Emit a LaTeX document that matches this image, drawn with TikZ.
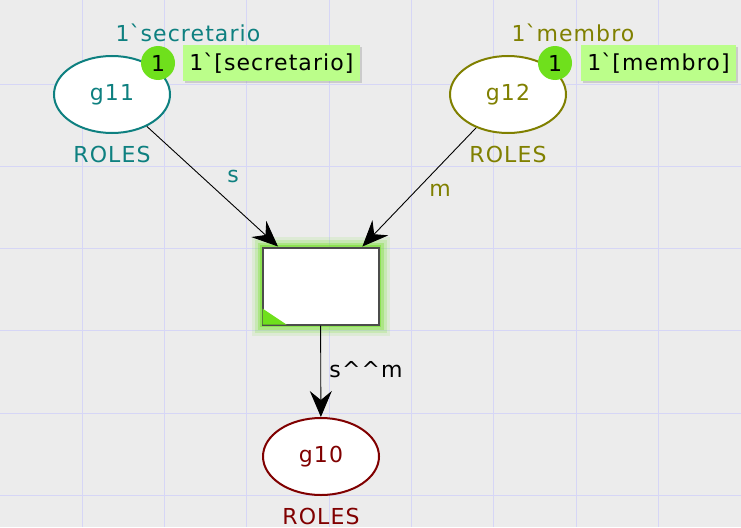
\documentclass[tikz,border=0pt]{standalone}
\usepackage{fontspec}
\setmainfont{DejaVu Sans}[LetterSpace=5]
\usepackage{tikz}
\usetikzlibrary{arrows.meta,calc,positioning,shapes,shadows}
\definecolor{canvas}{HTML}{ECECEC}
\definecolor{gridblue}{HTML}{D6D6F6}
\definecolor{cpnteal}{HTML}{0E8080}
\definecolor{cpnolive}{HTML}{808000}
\definecolor{cpnred}{HTML}{800000}
\definecolor{tokengreen}{HTML}{6FE01C}
\definecolor{markfill}{HTML}{BBFE8A}
\definecolor{glow}{HTML}{78E030}

\begin{document}
\begin{tikzpicture}[x=1pt,y=-1pt,->,>={Stealth[length=26pt,width=22pt,inset=9pt]},
font=\fontsize{22}{26}\selectfont]
\tikzstyle{place}=[ellipse,draw,line width=2pt,fill=white,minimum width=116pt,minimum height=77pt,inner sep=0pt]
\tikzstyle{transition}=[rectangle,draw=black!70,line width=2pt,fill=white,minimum width=116pt,minimum height=77pt,
preaction={draw=glow,line width=22pt,draw opacity=0.12},
preaction={draw=glow,line width=16pt,draw opacity=0.2},
preaction={draw=glow,line width=10pt,draw opacity=0.35},
preaction={draw=glow,line width=5pt,draw opacity=0.6}]
\tikzstyle{token}=[circle,fill=tokengreen,minimum size=34pt,inner sep=0pt]
\tikzstyle{marking}=[rectangle,fill=markfill,minimum height=35pt,inner xsep=6pt,
drop shadow={shadow xshift=2pt,shadow yshift=-2pt,opacity=0.3}]
\tikzstyle{arc}=[draw=black,line width=0.9pt]

% canvas and grid
\fill[canvas] (0,0) rectangle (741,527);
\useasboundingbox (0,0) rectangle (741,527);
\foreach \i in {1,...,8}
  \draw[-,gridblue,line width=1pt] (\i*82.33,0) -- (\i*82.33,527);
\foreach \i in {1,...,6}
  \draw[-,gridblue,line width=1pt] (0,1.7+\i*82.3) -- (741,1.7+\i*82.3);

% places and transition
\node[place,draw=cpnteal,text=cpnteal]   (g11) at (112,94.5) {g11};
\node[place,draw=cpnolive,text=cpnolive] (g12) at (508,94.5) {g12};
\node[place,draw=cpnred,text=cpnred]     (g10) at (321,456.5) {g10};
\node[transition] (t) at (320.5,286) {};
\fill[-,tokengreen] ($(t.south west)+(1,-1)$) -- ++(0,-16) -- ++(24,16) -- cycle;

% colour sets and initial markings
\node[text=cpnteal,inner sep=0pt,below=12pt of g11]  (cs11) {ROLES};
\node[text=cpnolive,inner sep=0pt,below=12pt of g12] (cs12) {ROLES};
\node[text=cpnred,inner sep=0pt,below=12pt of g10]   (cs10) {ROLES};
\node[text=cpnteal]  (im11) at (188,33) {1\textasciigrave secretario};
\node[text=cpnolive] (im12) at (573,33) {1\textasciigrave membro};

% current markings
\node[token] (tk11) at (158,63) {1};
\node[marking,right=8pt of tk11] (mk11) {1\textasciigrave[secretario]};
\node[token] (tk12) at (555,63) {1};
\node[marking,right=9pt of tk12] (mk12) {1\textasciigrave[membro]};

% arcs
\coordinate (tin1) at ($(t.north west)!0.14!(t.north east)$);
\coordinate (tin2) at ($(t.north west)!0.855!(t.north east)$);
\path[arc] (g11) -- (tin1);
\path[arc] (g12) -- (tin2);
\path[arc] (t) -- (g10);
\node[text=cpnteal]  (a1) at (233,176) {s};
\node[text=cpnolive] (a2) at (440,190) {m};
\node (a3) at (366,370) {s\textasciicircum\textasciicircum m};
\end{tikzpicture}
\end{document}
